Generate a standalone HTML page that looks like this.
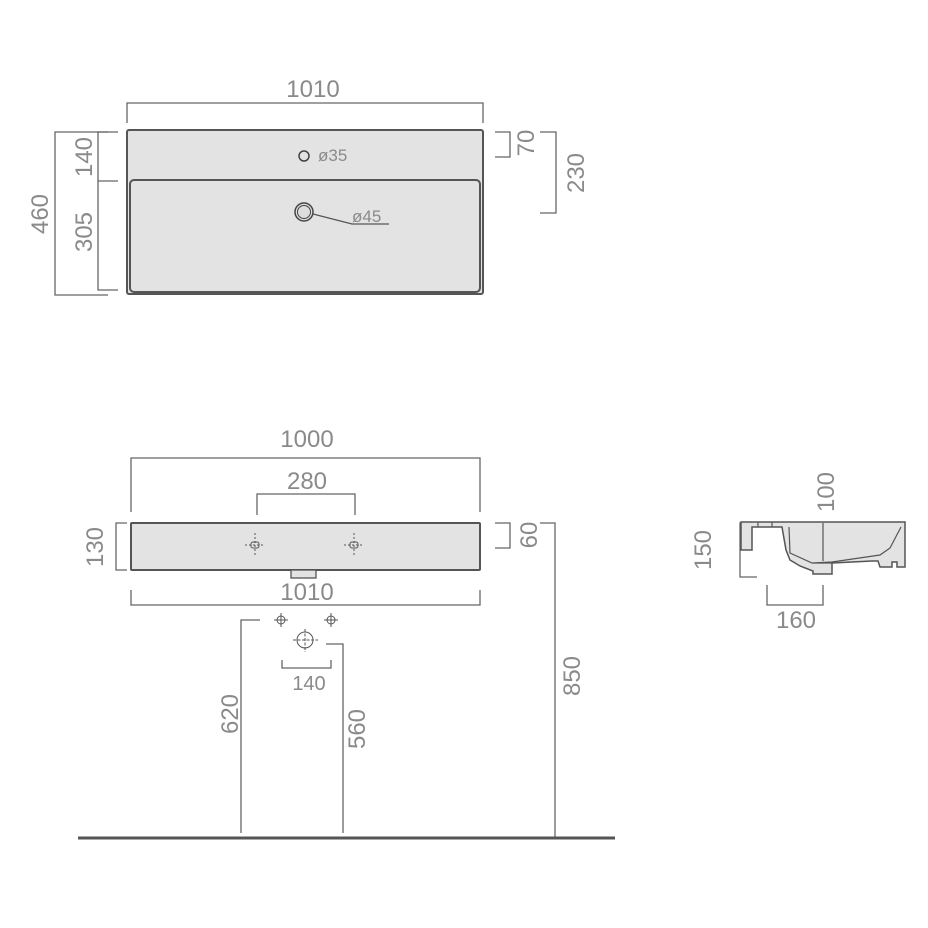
<!DOCTYPE html>
<html><head><meta charset="utf-8"><style>
html,body{margin:0;padding:0;background:#fff;}
svg{display:block}
text{font-family:"Liberation Sans",sans-serif;fill:#8a8a8a;font-size:24px;font-weight:normal}
</style></head><body>
<svg width="928" height="928" viewBox="0 0 928 928" xmlns="http://www.w3.org/2000/svg">
<g fill="none" stroke="#666" stroke-width="1.3">
<!-- TOP VIEW -->
<path d="M127 123 V103 H483 V123"/>
<path d="M108 132 H55 V295 H108"/>
<path d="M118 132 H98 V290 H118 M98 181 H118"/>
<path d="M495 132 H510 V157 H495"/>
<path d="M540 132 H556 V213 H540"/>
</g>
<rect x="127" y="130" width="356" height="164" rx="2" fill="#e3e3e3" stroke="#555" stroke-width="2"/>
<rect x="130" y="180" width="350" height="112" rx="4" fill="#e3e3e3" stroke="#555" stroke-width="2"/>
<circle cx="304" cy="156" r="5" fill="none" stroke="#444" stroke-width="1.5"/>
<circle cx="304" cy="212" r="9" fill="#ddd" stroke="#444" stroke-width="1.5"/>
<circle cx="304" cy="212" r="6.5" fill="#ddd" stroke="#444" stroke-width="1"/>
<path d="M313 214 L352 224 H389" fill="none" stroke="#555" stroke-width="1.2"/>
<text x="313" y="97" text-anchor="middle">1010</text>
<text x="318" y="161" style="font-size:17px">ø35</text>
<text x="352" y="222" style="font-size:17px">ø45</text>
<text transform="translate(48,214) rotate(-90)" text-anchor="middle">460</text>
<text transform="translate(92,157) rotate(-90)" text-anchor="middle">140</text>
<text transform="translate(92,232) rotate(-90)" text-anchor="middle">305</text>
<text transform="translate(534,143) rotate(-90)" text-anchor="middle">70</text>
<text transform="translate(584,173) rotate(-90)" text-anchor="middle">230</text>

<!-- FRONT VIEW -->
<g fill="none" stroke="#666" stroke-width="1.3">
<path d="M131 512 V458 H480 V512"/>
<path d="M257 515 V494 H355 V515"/>
<path d="M127 523 H116 V570 H127"/>
<path d="M495 523 H510 V548 H495"/>
<path d="M540 523 H555 V838"/>
<path d="M131 590 V605 H480 V590"/>
<path d="M260 620 H241 V833"/>
<path d="M326 644 H343 V833"/>
<path d="M282 660 V668 H331 V660"/>
</g>
<rect x="131" y="523" width="349" height="47" rx="1" fill="#e3e3e3" stroke="#555" stroke-width="2"/>
<rect x="291" y="570" width="25" height="8" fill="#e3e3e3" stroke="#555" stroke-width="1.3"/>
<g fill="none" stroke="#555" stroke-width="1">
<rect x="251" y="542" width="8" height="6" rx="2"/>
<rect x="350" y="542" width="8" height="6" rx="2"/>
<path d="M255 533 V557 M245 545 H265 M354 533 V557 M344 545 H364" stroke-dasharray="2 2"/>
<circle cx="281" cy="620" r="4"/><circle cx="331" cy="620" r="4"/>
<path d="M281 613 V627 M274 620 H288 M331 613 V627 M324 620 H338"/>
<circle cx="305" cy="640" r="8"/>
<path d="M305 629 V652 M293 640 H318" stroke-dasharray="3 1.5"/>
</g>
<line x1="78" y1="838" x2="615" y2="838" stroke="#555" stroke-width="3"/>
<text x="307" y="447" text-anchor="middle">1000</text>
<text x="307" y="489" text-anchor="middle">280</text>
<text x="307" y="600" text-anchor="middle">1010</text>
<text x="309" y="690" text-anchor="middle" style="font-size:20px">140</text>
<text transform="translate(103,547) rotate(-90)" text-anchor="middle">130</text>
<text transform="translate(537,535) rotate(-90)" text-anchor="middle">60</text>
<text transform="translate(580,676) rotate(-90)" text-anchor="middle">850</text>
<text transform="translate(238,714) rotate(-90)" text-anchor="middle">620</text>
<text transform="translate(365,729) rotate(-90)" text-anchor="middle">560</text>

<!-- SIDE VIEW -->
<g fill="none" stroke="#666" stroke-width="1.3">
<path d="M757 523 H740 V577 H757"/>
<path d="M767 585 V605 H823 V585"/>
</g>
<path d="M741 522 H905 V567 H897 V562 H892 V567 H880 L878 561 H872 L832 563 V574 H813 V571 L800 566 L790 560 L786 550 L782 527 H752 V550 H741 Z" fill="#e3e3e3" stroke="#555" stroke-width="1.5"/>
<path d="M789 527 L790 553 L812 563 L832 562 L880 555 L890 548 L901 527 M823 523 V561 M813 563 H832 M758 522 V527 M772 522 V527" fill="none" stroke="#555" stroke-width="1.2"/>
<text transform="translate(834,492) rotate(-90)" text-anchor="middle">100</text>
<text transform="translate(711,550) rotate(-90)" text-anchor="middle">150</text>
<text x="796" y="628" text-anchor="middle">160</text>
</svg>
</body></html>
